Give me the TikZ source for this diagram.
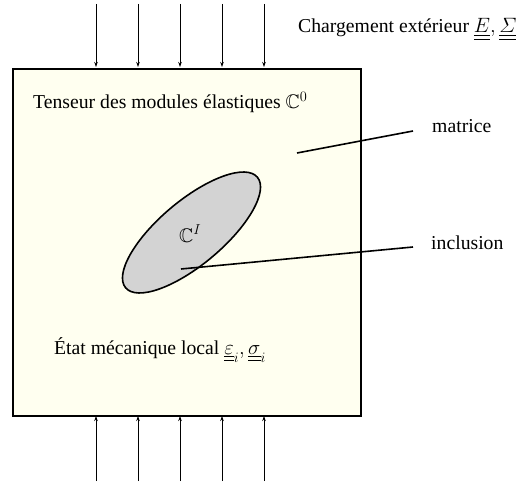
\documentclass[tikz,border=0pt]{standalone}
\usepackage{amsmath,amssymb}
\usepackage{fontspec}
\setmainfont{Liberation Serif}
\usetikzlibrary{arrows.meta,shapes.geometric}
\definecolor{ivoryfill}{RGB}{255,255,240}
\definecolor{inclgray}{RGB}{211,211,211}
\tikzset{
  lbl/.style={inner sep=0pt, anchor=base west, font=\fontsize{19.7}{23}\selectfont},
  load/.style={line width=0.8pt, -{Stealth[length=5pt,width=3.5pt]}},
  leader/.style={line width=1.6pt},
}
\begin{document}
\begin{tikzpicture}[x=1pt,y=-1pt]
\useasboundingbox (0,0) rectangle (517,484);
% matrix box
\node[draw, line width=1.8pt, fill=ivoryfill, minimum width=348pt, minimum height=347pt, inner sep=0pt, anchor=north west] (box) at (12,68) {};
% inclusion
\node[draw, line width=1.6pt, fill=inclgray, ellipse, minimum width=172pt, minimum height=64pt, inner sep=0pt, rotate=40] (incl) at (191.5,232.5) {};
% loading arrows
\foreach \i/\x in {1/96,2/138,3/180,4/222,5/264}{
  \coordinate (t\i) at (\x,4);
  \coordinate (tb\i) at (\x,67);
  \draw[load] (t\i) -- (tb\i);
  \coordinate (b\i) at (\x,481);
  \coordinate (bb\i) at (\x,416);
  \draw[load] (b\i) -- (bb\i);
}
% texts
\node[lbl] (charg) at (298,33) {Chargement extérieur $\underline{\underline{E}},\underline{\underline{\varSigma}}$};
\node[lbl] (tens) at (33,109) {Tenseur des modules élastiques $\mathbb{C}^0$};
\node[lbl] (etat) at (54,354) {État mécanique local $\underline{\underline{\varepsilon}}_i,\underline{\underline{\sigma}}_i$};
\node[lbl] (ci) at (179,242) {$\mathbb{C}^I$};
\node[lbl] (mat) at (432,133) {matrice};
\node[lbl] (inc) at (431,249) {inclusion};
% leaders
\coordinate (mA) at (297,153);
\coordinate (mB) at (413,131);
\draw[leader] (mA) -- (mB);
\coordinate (iA) at (181,269);
\coordinate (iB) at (413,247);
\draw[leader] (iA) -- (iB);
\end{tikzpicture}
\end{document}
